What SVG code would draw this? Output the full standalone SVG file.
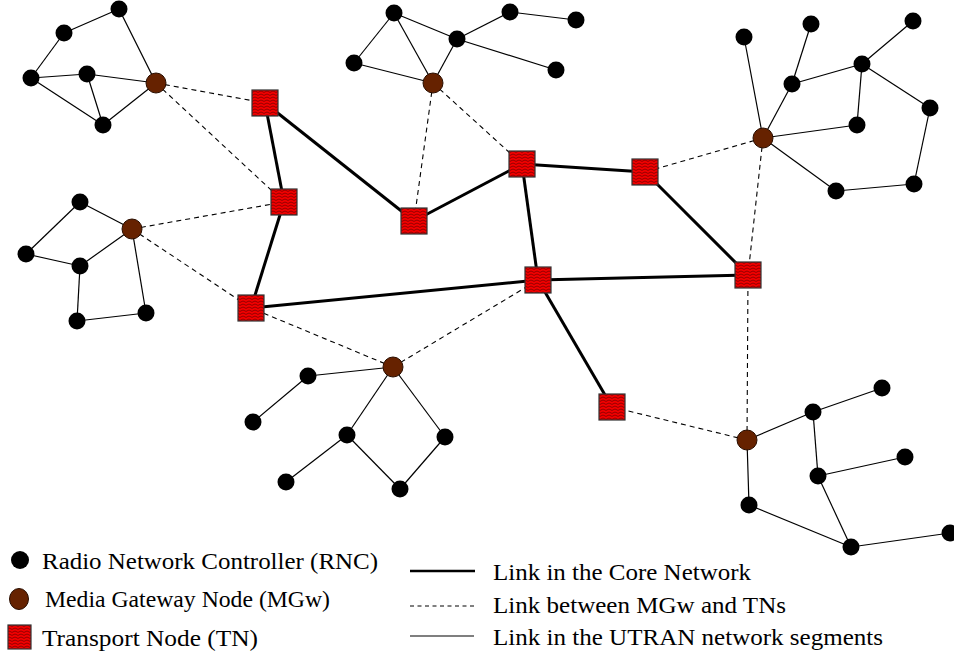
<svg xmlns="http://www.w3.org/2000/svg" width="954" height="659" viewBox="0 0 954 659">
  <defs>
    <!-- hatched red fill for transport nodes -->
    <pattern id="tnHatch" width="6" height="3" patternUnits="userSpaceOnUse">
      <rect width="6" height="3" fill="#f20000"/>
      <path d="M0,2.4 L3,1 L6,2.4" fill="none" stroke="#7a0000" stroke-width="0.8"/>
    </pattern>
  </defs>
  <style>
    .rnc { fill: #000; }
    .mgw { fill: #662200; stroke: #2a0e00; stroke-width: 1; }
    .tn { fill: url(#tnHatch); stroke: #333; stroke-width: 1.2; }
    .core { stroke: #000; stroke-width: 3; fill: none; }
    .dash { stroke: #000; stroke-width: 1.1; stroke-dasharray: 5 4; fill: none; }
    .utran { stroke: #000; stroke-width: 1.2; fill: none; }
    .lbl { font-size: 24px; fill: #000; }
  </style>
  <rect width="954" height="659" fill="#fff"/>

  <g id="connectors">
    <!-- UTRAN segment links -->
    <g class="utran">
      <!-- top-left segment -->
      <line x1="119" y1="9" x2="64" y2="33"/>
      <line x1="64" y1="33" x2="31" y2="78"/>
      <line x1="31" y1="78" x2="87" y2="74"/>
      <line x1="87" y1="74" x2="156" y2="83"/>
      <line x1="31" y1="78" x2="103" y2="125"/>
      <line x1="87" y1="74" x2="103" y2="125"/>
      <line x1="103" y1="125" x2="156" y2="83"/>
      <line x1="119" y1="9" x2="156" y2="83"/>
      <!-- top-middle segment -->
      <line x1="394" y1="13" x2="354" y2="63"/>
      <line x1="354" y1="63" x2="433" y2="83"/>
      <line x1="394" y1="13" x2="433" y2="83"/>
      <line x1="394" y1="13" x2="457" y2="39"/>
      <line x1="457" y1="39" x2="433" y2="83"/>
      <line x1="457" y1="39" x2="510" y2="12"/>
      <line x1="510" y1="12" x2="576" y2="20"/>
      <line x1="457" y1="39" x2="556" y2="70"/>
      <!-- top-right segment -->
      <line x1="744" y1="37" x2="763" y2="138"/>
      <line x1="811" y1="24" x2="792" y2="84"/>
      <line x1="792" y1="84" x2="763" y2="138"/>
      <line x1="792" y1="84" x2="862" y2="64"/>
      <line x1="862" y1="64" x2="913" y2="21"/>
      <line x1="862" y1="64" x2="930" y2="108"/>
      <line x1="862" y1="64" x2="857" y2="125"/>
      <line x1="857" y1="125" x2="763" y2="138"/>
      <line x1="930" y1="108" x2="914" y2="184"/>
      <line x1="914" y1="184" x2="836" y2="191"/>
      <line x1="836" y1="191" x2="763" y2="138"/>
      <!-- left segment -->
      <line x1="80" y1="202" x2="132" y2="229"/>
      <line x1="80" y1="202" x2="26" y2="254"/>
      <line x1="26" y1="254" x2="80" y2="266"/>
      <line x1="80" y1="266" x2="132" y2="229"/>
      <line x1="80" y1="266" x2="77" y2="321"/>
      <line x1="77" y1="321" x2="146" y2="313"/>
      <line x1="146" y1="313" x2="132" y2="229"/>
      <!-- bottom-middle segment -->
      <line x1="393" y1="367" x2="308" y2="376"/>
      <line x1="308" y1="376" x2="253" y2="422"/>
      <line x1="393" y1="367" x2="347" y2="435"/>
      <line x1="347" y1="435" x2="286" y2="482"/>
      <line x1="347" y1="435" x2="400" y2="489"/>
      <line x1="400" y1="489" x2="445" y2="437"/>
      <line x1="445" y1="437" x2="393" y2="367"/>
      <!-- bottom-right segment -->
      <line x1="747" y1="440" x2="813" y2="412"/>
      <line x1="813" y1="412" x2="882" y2="388"/>
      <line x1="813" y1="412" x2="818" y2="476"/>
      <line x1="818" y1="476" x2="905" y2="457"/>
      <line x1="818" y1="476" x2="851" y2="547"/>
      <line x1="747" y1="440" x2="749" y2="505"/>
      <line x1="749" y1="505" x2="851" y2="547"/>
      <line x1="851" y1="547" x2="950" y2="533"/>
    </g>
    <!-- MGw to TN links -->
    <g class="dash">
      <line x1="156" y1="83" x2="265" y2="103"/>
      <line x1="156" y1="83" x2="284" y2="202"/>
      <line x1="433" y1="83" x2="414" y2="221"/>
      <line x1="433" y1="83" x2="522" y2="164"/>
      <line x1="763" y1="138" x2="645" y2="172"/>
      <line x1="763" y1="138" x2="748" y2="275"/>
      <line x1="132" y1="229" x2="284" y2="202"/>
      <line x1="132" y1="229" x2="251" y2="308"/>
      <line x1="393" y1="367" x2="251" y2="308"/>
      <line x1="393" y1="367" x2="538" y2="280"/>
      <line x1="747" y1="440" x2="612" y2="407"/>
      <line x1="747" y1="440" x2="748" y2="275"/>
    </g>
    <!-- core network links -->
    <g class="core">
      <line x1="265" y1="103" x2="284" y2="202"/>
      <line x1="265" y1="103" x2="414" y2="221"/>
      <line x1="284" y1="202" x2="251" y2="308"/>
      <line x1="251" y1="308" x2="538" y2="280"/>
      <line x1="414" y1="221" x2="522" y2="164"/>
      <line x1="522" y1="164" x2="645" y2="172"/>
      <line x1="522" y1="164" x2="538" y2="280"/>
      <line x1="645" y1="172" x2="748" y2="275"/>
      <line x1="538" y1="280" x2="748" y2="275"/>
      <line x1="538" y1="280" x2="612" y2="407"/>
    </g>
  </g>

  <!-- Radio Network Controllers -->
  <g id="rnc-nodes" class="rnc">
    <circle id="rnc-1" cx="119" cy="9" r="8.5"/>
    <circle id="rnc-2" cx="64" cy="33" r="8.5"/>
    <circle id="rnc-3" cx="31" cy="78" r="8.5"/>
    <circle id="rnc-4" cx="87" cy="74" r="8.5"/>
    <circle id="rnc-5" cx="103" cy="125" r="8.5"/>
    <circle id="rnc-6" cx="394" cy="13" r="8.5"/>
    <circle id="rnc-7" cx="354" cy="63" r="8.5"/>
    <circle id="rnc-8" cx="457" cy="39" r="8.5"/>
    <circle id="rnc-9" cx="510" cy="12" r="8.5"/>
    <circle id="rnc-10" cx="576" cy="20" r="8.5"/>
    <circle id="rnc-11" cx="556" cy="70" r="8.5"/>
    <circle id="rnc-12" cx="744" cy="37" r="8.5"/>
    <circle id="rnc-13" cx="811" cy="24" r="8.5"/>
    <circle id="rnc-14" cx="913" cy="21" r="8.5"/>
    <circle id="rnc-15" cx="862" cy="64" r="8.5"/>
    <circle id="rnc-16" cx="792" cy="84" r="8.5"/>
    <circle id="rnc-17" cx="930" cy="108" r="8.5"/>
    <circle id="rnc-18" cx="857" cy="125" r="8.5"/>
    <circle id="rnc-19" cx="836" cy="191" r="8.5"/>
    <circle id="rnc-20" cx="914" cy="184" r="8.5"/>
    <circle id="rnc-21" cx="80" cy="202" r="8.5"/>
    <circle id="rnc-22" cx="26" cy="254" r="8.5"/>
    <circle id="rnc-23" cx="80" cy="266" r="8.5"/>
    <circle id="rnc-24" cx="77" cy="321" r="8.5"/>
    <circle id="rnc-25" cx="146" cy="313" r="8.5"/>
    <circle id="rnc-26" cx="308" cy="376" r="8.5"/>
    <circle id="rnc-27" cx="253" cy="422" r="8.5"/>
    <circle id="rnc-28" cx="347" cy="435" r="8.5"/>
    <circle id="rnc-29" cx="286" cy="482" r="8.5"/>
    <circle id="rnc-30" cx="400" cy="489" r="8.5"/>
    <circle id="rnc-31" cx="445" cy="437" r="8.5"/>
    <circle id="rnc-32" cx="813" cy="412" r="8.5"/>
    <circle id="rnc-33" cx="882" cy="388" r="8.5"/>
    <circle id="rnc-34" cx="818" cy="476" r="8.5"/>
    <circle id="rnc-35" cx="905" cy="457" r="8.5"/>
    <circle id="rnc-36" cx="749" cy="505" r="8.5"/>
    <circle id="rnc-37" cx="851" cy="547" r="8.5"/>
    <circle id="rnc-38" cx="950" cy="533" r="8.5"/>
  </g>

  <!-- Media Gateway nodes -->
  <g id="mgw-nodes" class="mgw">
    <circle id="mgw-1" cx="156" cy="83" r="10"/>
    <circle id="mgw-2" cx="433" cy="83" r="10"/>
    <circle id="mgw-3" cx="763" cy="138" r="10"/>
    <circle id="mgw-4" cx="132" cy="229" r="10"/>
    <circle id="mgw-5" cx="393" cy="367" r="10"/>
    <circle id="mgw-6" cx="747" cy="440" r="10"/>
  </g>

  <!-- Transport nodes -->
  <g id="tn-nodes" class="tn">
    <rect id="tn-1" x="252" y="90" width="26" height="26"/>
    <rect id="tn-2" x="271" y="189" width="26" height="26"/>
    <rect id="tn-3" x="401" y="208" width="26" height="26"/>
    <rect id="tn-4" x="509" y="151" width="26" height="26"/>
    <rect id="tn-5" x="632" y="159" width="26" height="26"/>
    <rect id="tn-6" x="238" y="295" width="26" height="26"/>
    <rect id="tn-7" x="525" y="267" width="26" height="26"/>
    <rect id="tn-8" x="735" y="262" width="26" height="26"/>
    <rect id="tn-9" x="599" y="394" width="26" height="26"/>
  </g>

  <!-- Legend -->
  <g id="legend" font-family="'Liberation Serif', 'DejaVu Serif', serif">
    <circle class="rnc" cx="20" cy="560" r="9"/>
    <text class="lbl" x="42" y="569" textLength="336" lengthAdjust="spacingAndGlyphs" font-family="'Liberation Serif', 'DejaVu Serif', serif">Radio Network Controller (RNC)</text>
    <ellipse class="mgw" cx="19" cy="599" rx="9.5" ry="10.5"/>
    <text class="lbl" x="45" y="607" textLength="285" lengthAdjust="spacingAndGlyphs" font-family="'Liberation Serif', 'DejaVu Serif', serif">Media Gateway Node (MGw)</text>
    <rect class="tn" x="8" y="625" width="23" height="24"/>
    <text class="lbl" x="42" y="646" textLength="216" lengthAdjust="spacingAndGlyphs" font-family="'Liberation Serif', 'DejaVu Serif', serif">Transport Node (TN)</text>

    <line class="core" x1="410" y1="571" x2="475" y2="571" style="stroke-width:2.6"/>
    <text class="lbl" x="493" y="580" textLength="258" lengthAdjust="spacingAndGlyphs" font-family="'Liberation Serif', 'DejaVu Serif', serif">Link in the Core Network</text>
    <line class="dash" x1="410" y1="606" x2="475" y2="606" style="stroke-dasharray:4 3.5;stroke-width:1"/>
    <text class="lbl" x="493" y="613" textLength="293" lengthAdjust="spacingAndGlyphs" font-family="'Liberation Serif', 'DejaVu Serif', serif">Link between MGw and TNs</text>
    <line class="utran" x1="410" y1="636" x2="474" y2="636"/>
    <text class="lbl" x="493" y="645" textLength="390" lengthAdjust="spacingAndGlyphs" font-family="'Liberation Serif', 'DejaVu Serif', serif">Link in the UTRAN network segments</text>
  </g>
</svg>
